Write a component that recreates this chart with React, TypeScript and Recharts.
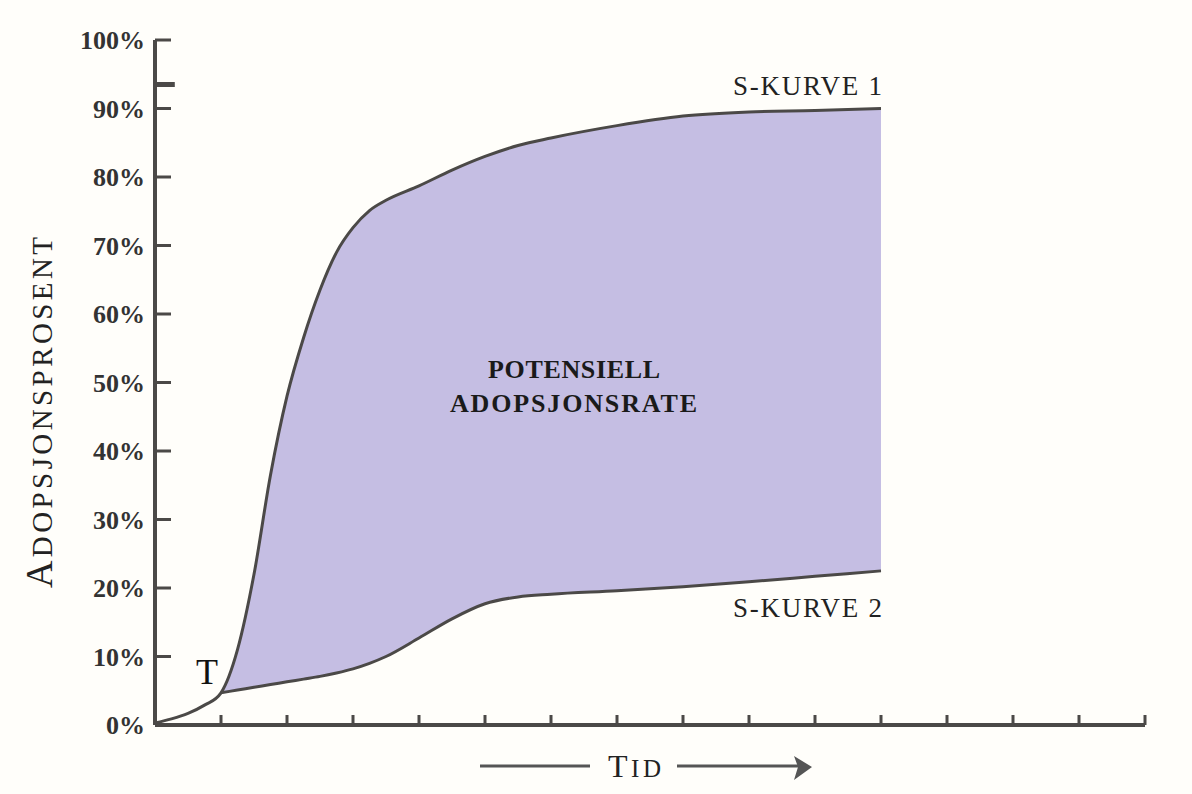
import React from 'react';
import { ComposedChart, Line, Area, XAxis, YAxis, ReferenceLine } from 'recharts';

// Time (arbitrary units along the x axis)
const time = [0, 0.25, 0.5, 0.75, 1, 1.25, 1.5, 1.75, 2, 2.25, 2.5, 2.75, 3, 3.25, 3.5, 4, 4.5, 5, 5.5, 6, 7, 8, 9, 10, 11];
// S-kurve 1 (upper curve), adoption %
const sKurve1 = [0.3, 0.9, 1.7, 2.9, 4.7, 11, 22, 36.5, 48, 56.5, 63.5, 69, 72.6, 75.1, 76.6, 78.7, 81.0, 83.0, 84.6, 85.7, 87.5, 88.9, 89.5, 89.7, 90];
// S-kurve 2 (lower curve), adoption % — starts at point T
const sKurve2 = [null, null, null, null, 4.7, 5.1, 5.5, 5.9, 6.3, 6.7, 7.1, 7.6, 8.2, 9.0, 10.0, 12.7, 15.5, 17.7, 18.7, 19.1, 19.6, 20.2, 20.9, 21.7, 22.5];

const yTicks = [0, 10, 20, 30, 40, 50, 60, 70, 80, 90, 100];
const xTicks = [1, 2, 3, 4, 5, 6, 7, 8, 9, 10, 11, 12, 13, 14, 15];

const data = time.map((t, i) => ({ t, s1: sKurve1[i], s2: sKurve2[i] }));

const INK = '#4b4947';
const FILL = '#c5bee3';
const SERIF = '"Liberation Serif", "DejaVu Serif", serif';

const YTick = (props: any) => {
  const { x, y, payload } = props;
  return (
    <g>
      <line x1={x} x2={x + 16} y1={y} y2={y} stroke={INK} strokeWidth={3} />
      <text x={x - 10} y={y} dy={9} textAnchor="end" fontFamily={SERIF} fontWeight="bold" fontSize={26} fill="#333">
        {payload.value}%
      </text>
    </g>
  );
};

const XTick = (props: any) => {
  const { x, y } = props;
  return <line x1={x} x2={x} y1={y} y2={y - 10} stroke={INK} strokeWidth={3} />;
};

export default function App() {
  return (
    <div style={{ position: 'absolute', left: 0, top: 0, width: 1192, height: 794, background: '#fffefa' }}>
      <ComposedChart width={1192} height={794} data={data} margin={{ top: 40, right: 47, bottom: 0, left: 0 }}>
        <XAxis
          dataKey="t"
          type="number"
          domain={[0, 15]}
          ticks={xTicks}
          interval={0}
          height={69}
          tickSize={0}
          tickMargin={0}
          tickLine={false}
          axisLine={{ stroke: INK, strokeWidth: 4 }}
          tick={<XTick />}
        />
        <YAxis
          type="number"
          domain={[0, 100]}
          ticks={yTicks}
          interval={0}
          width={155}
          tickSize={0}
          tickMargin={0}
          tickLine={false}
          axisLine={{ stroke: INK, strokeWidth: 4 }}
          tick={<YTick />}
        />
        <Area
          dataKey={(d: any) => (d.s2 == null ? null : [d.s2, d.s1])}
          type="monotone"
          fill={FILL}
          fillOpacity={1}
          stroke="none"
          isAnimationActive={false}
          activeDot={false}
          dot={false}
        />
        <Line dataKey="s1" type="monotone" stroke={INK} strokeWidth={3} dot={false} activeDot={false} isAnimationActive={false} />
        <Line dataKey="s2" type="monotone" stroke={INK} strokeWidth={3} dot={false} activeDot={false} isAnimationActive={false} />
        <ReferenceLine segment={[{ x: 0, y: 93.5 }, { x: 0.3, y: 93.5 }]} stroke={INK} strokeWidth={5} ifOverflow="visible" />
      </ComposedChart>
      <svg width={1192} height={794} style={{ position: 'absolute', left: 0, top: 0, pointerEvents: 'none' }}>
        <text transform="translate(52, 588) rotate(-90)" fontFamily={SERIF} fill="#222" textLength={351} lengthAdjust="spacing">
          <tspan fontSize={38}>A</tspan>
          <tspan fontSize={29}>DOPSJONSPROSENT</tspan>
        </text>
        <text x={733} y={95} fontFamily={SERIF} fontSize={27} fill="#222" textLength={149} lengthAdjust="spacing">S-KURVE 1</text>
        <text x={733} y={617} fontFamily={SERIF} fontSize={27} fill="#222" textLength={149} lengthAdjust="spacing">S-KURVE 2</text>
        <text x={488} y={378} fontFamily={SERIF} fontWeight="bold" fontSize={26} fill="#1a1a1a" textLength={172} lengthAdjust="spacing">POTENSIELL</text>
        <text x={450} y={412} fontFamily={SERIF} fontWeight="bold" fontSize={26} fill="#1a1a1a" textLength={247} lengthAdjust="spacing">ADOPSJONSRATE</text>
        <text x={207} y={684} textAnchor="middle" fontFamily={SERIF} fontSize={36} fill="#111">T</text>
        <line x1={480} x2={590} y1={766} y2={766} stroke="#555" strokeWidth={3} />
        <text x={608} y={777} fontFamily={SERIF} fill="#222" textLength={53} lengthAdjust="spacing">
          <tspan fontSize={32}>T</tspan>
          <tspan fontSize={25}>ID</tspan>
        </text>
        <line x1={677} x2={800} y1={766} y2={766} stroke="#555" strokeWidth={3} />
        <polygon points="794,756 812,767 794,780 798,767" fill="#555" />
      </svg>
    </div>
  );
}
